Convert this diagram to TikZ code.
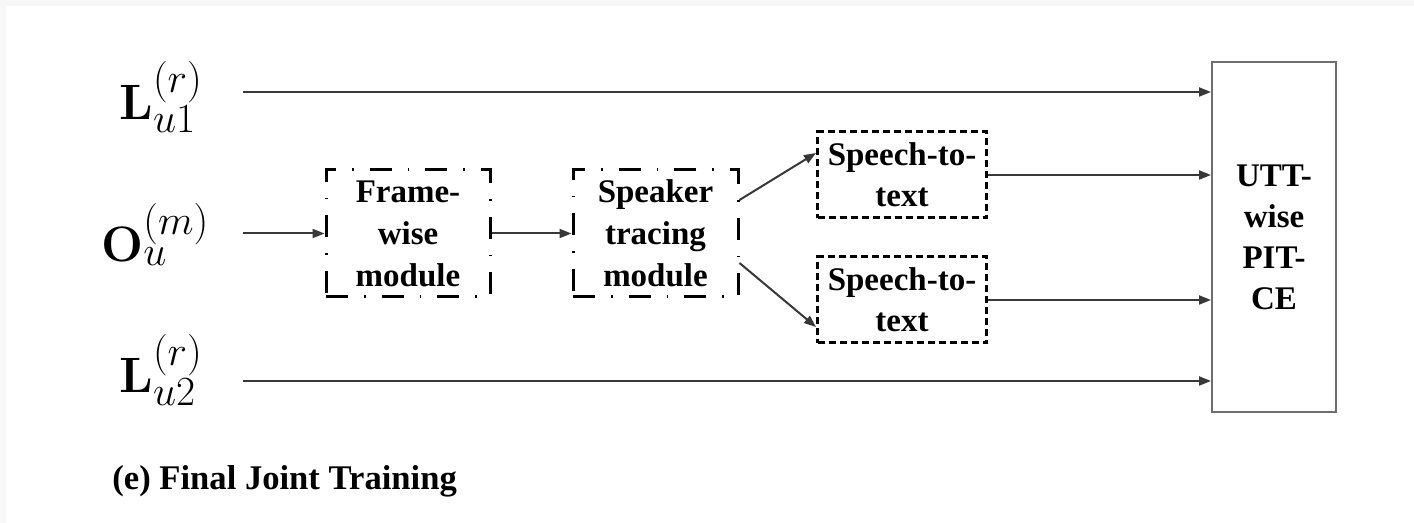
\documentclass[tikz,border=0pt]{standalone}
\usepackage[no-math]{fontspec}
\newfontfamily\tnr{Liberation Serif}
\usetikzlibrary{arrows.meta}
\definecolor{pagegray}{HTML}{F7F7F7}
\definecolor{linegray}{HTML}{383838}
\definecolor{boxgray}{HTML}{6E6E6E}

\begin{document}
\begin{tikzpicture}[x=0.5pt,y=-0.5pt,
  lbl/.style={font=\tnr\bfseries\fontsize{16.5}{20.5}\selectfont, align=center, inner sep=0pt},
  dashdotbox/.style={lbl, font=\tnr\bfseries\fontsize{16.5}{21}\selectfont, draw=black, line width=1.5pt,
    dash pattern=on 11pt off 8pt on 0.8pt off 8pt, minimum height=63.5pt},
  dotbox/.style={lbl, draw=black, line width=1.5pt,
    dash pattern=on 3.5pt off 2pt, minimum width=84.5pt},
  arr/.style={draw=linegray, line width=1pt, -{Triangle[length=6pt,width=4.5pt]}},
  sym/.style={inner sep=0pt, font=\fontsize{32.5}{38}\selectfont}
]
% page and frame
\useasboundingbox (0,0) rectangle (1414,523);
\fill[pagegray] (0,0) rectangle (1414,523);
\fill[white] (5.5,6.5) rectangle (1414,523);

% inputs
\node[sym, anchor=base west] (lu1) at (119,120) {$\mathbf{L}_{u1}^{(r)}$};
\node[sym, anchor=base west] (ou)  at (101,262) {$\mathbf{O}_{u}^{(m)}$};
\node[sym, anchor=base west] (lu2) at (119,393) {$\mathbf{L}_{u2}^{(r)}$};

% processing blocks
\node[dashdotbox, minimum width=82pt] (frame) at (408,233.5) {Frame-\\wise\\module};
\node[dashdotbox, minimum width=82.5pt] (spk) at (655.5,233.5) {Speaker\\tracing\\module};
\node[dotbox, minimum height=43pt] (stt1) at (902,175) {Speech-to-\\text};
\node[dotbox, minimum height=43pt] (stt2) at (902,300) {Speech-to-\\text};
\node[lbl, draw=boxgray, line width=1pt, minimum width=62pt, minimum height=175pt]
  (utt) at (1274,237) {UTT-\\wise\\PIT-\\CE};

% caption
\node[anchor=base west, inner sep=0pt, font=\tnr\bfseries\fontsize{17.3}{20}\selectfont]
  (cap) at (112,490) {(e) Final Joint Training};

% connectors
\coordinate (s1) at (243,92);
\coordinate (s2) at (243,233.5);
\coordinate (s3) at (243,381);
\draw[arr] (s1) -- (s1 -| utt.west);
\draw[arr] (s2) -- (frame.west);
\draw[arr] (frame.east) -- (spk.west);
\draw[arr] ([yshift=16.75pt]spk.east) -- ([yshift=11pt]stt1.west);
\draw[arr] ([yshift=-14.75pt]spk.east) -- ([yshift=-13.5pt]stt2.west);
\draw[arr] (stt1.east) -- (stt1.east -| utt.west);
\draw[arr] (stt2.east) -- (stt2.east -| utt.west);
\draw[arr] (s3) -- (s3 -| utt.west);
\end{tikzpicture}
\end{document}
